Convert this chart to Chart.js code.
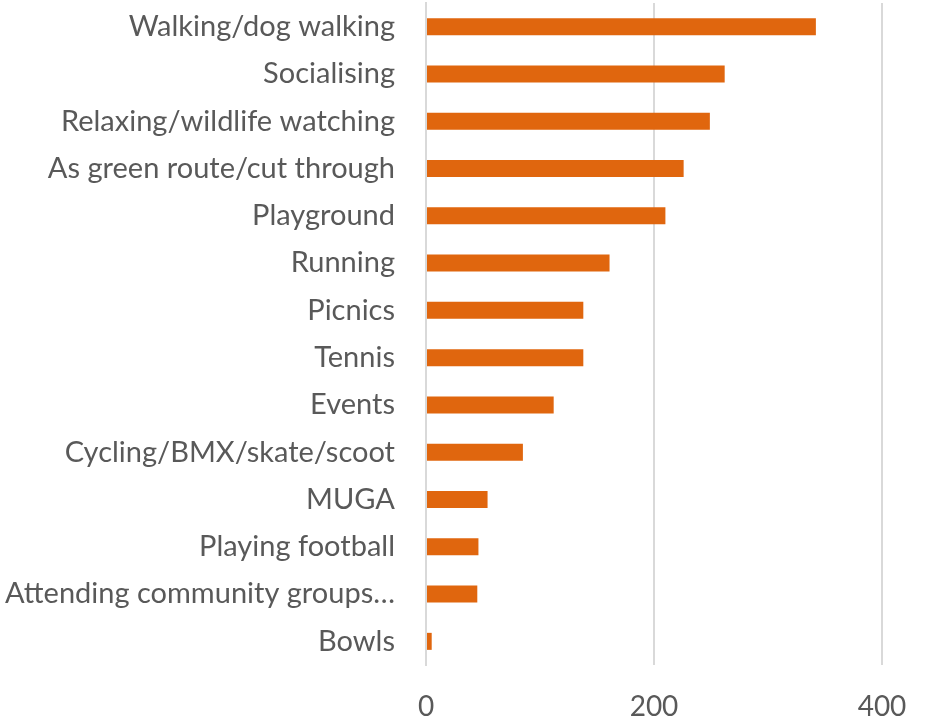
<!DOCTYPE html>
<html>
<head>
<meta charset="utf-8">
<script src="https://cdn.jsdelivr.net/npm/chart.js@4"></script>
<style>
  html, body { margin: 0; padding: 0; background: #fff; }
  #wrap { width: 926px; height: 722px; }
</style>
</head>
<body>
<div id="wrap"><canvas id="graficoUsos"></canvas></div>
<script>
const atividades = [
    'Walking/dog walking',
    'Socialising',
    'Relaxing/wildlife watching',
    'As green route/cut through',
    'Playground',
    'Running',
    'Picnics',
    'Tennis',
    'Events',
    'Cycling/BMX/skate/scoot',
    'MUGA',
    'Playing football',
    'Attending community groups…',
    'Bowls',
];
const respostas = [342, 262, 249, 226, 210, 161, 138, 138, 112, 85, 54, 46, 45, 5];
const ticksX = [0, 200, 400];

const familia = 'Lato, "Open Sans", sans-serif';

new Chart(document.getElementById('graficoUsos'), {
    type: 'bar',
    data: {
        labels: atividades,
        datasets: [{
            data: respostas,
            backgroundColor: '#E0660E',
            borderWidth: 0,
            barPercentage: 0.36,
            categoryPercentage: 1,
        }]
    },
    options: {
        indexAxis: 'y',
        responsive: true,
        maintainAspectRatio: false,
        animation: false,
        layout: { padding: { top: 3, right: 44, left: 0, bottom: 0 } },
        plugins: { legend: { display: false }, tooltip: { enabled: false } },
        scales: {
            x: {
                min: ticksX[0],
                max: ticksX[ticksX.length - 1],
                afterBuildTicks: ax => { ax.ticks = ticksX.map(v => ({ value: v })); },
                afterFit: ax => { ax.height = 57; ax.paddingLeft = 0; ax.paddingRight = 0; },
                grid: { color: '#d9d9d9', lineWidth: 2, drawTicks: false },
                border: { display: false },
                ticks: { color: '#595959', font: { family: familia, size: 28 }, padding: 25 },
            },
            y: {
                grid: { display: false },
                border: { color: '#d9d9d9', width: 2 },
                // largura fixa e sem folga extra em cima/baixo
                afterFit: ax => { ax.width = 426; ax.paddingTop = 0; ax.paddingBottom = 0; },
                ticks: { color: '#595959', font: { family: familia, size: 29 }, padding: 23, autoSkip: false },
            }
        }
    }
});
</script>
</body>
</html>
